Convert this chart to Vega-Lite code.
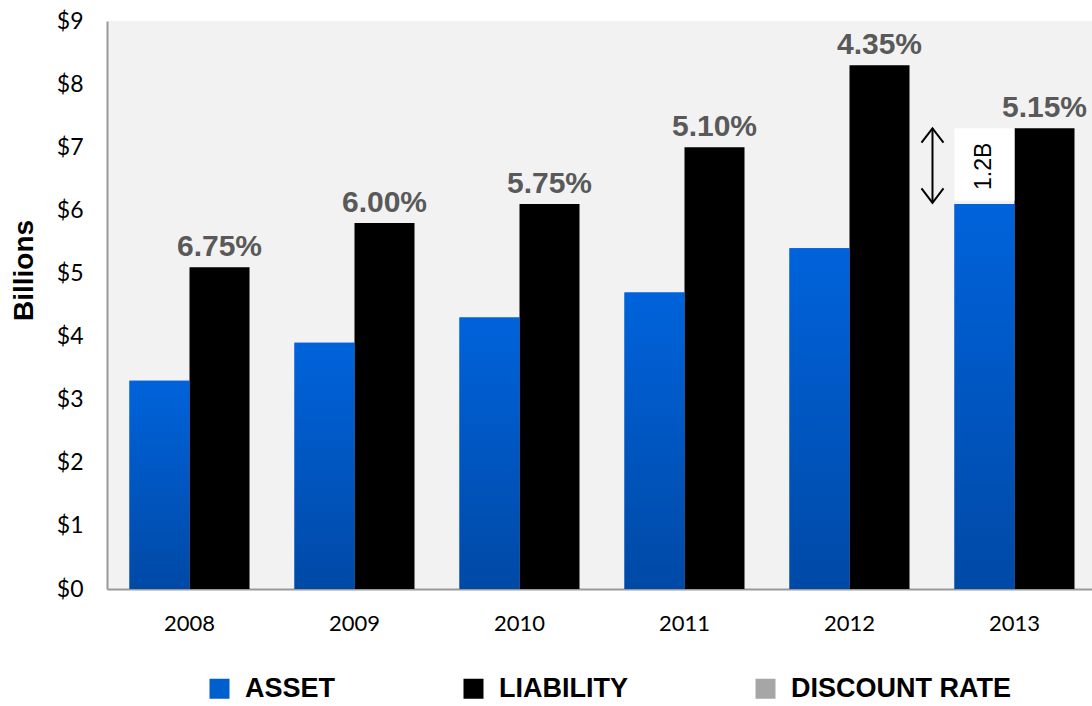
{
  "$schema": "https://vega.github.io/schema/vega-lite/v6.json",
  "autosize": "none",
  "width": 990,
  "height": 568,
  "padding": {"left": 107, "top": 21, "right": 0, "bottom": 117},
  "background": "white",
  "config": {
    "view": {"fill": "#f2f2f2", "stroke": null},
    "font": "Liberation Sans"
  },
  "datasets": {
    "main": [
      {"year": "2008", "series": "ASSET", "value": 3.3},
      {"year": "2008", "series": "LIABILITY", "value": 5.1, "rate": "6.75%"},
      {"year": "2009", "series": "ASSET", "value": 3.9},
      {"year": "2009", "series": "LIABILITY", "value": 5.8, "rate": "6.00%"},
      {"year": "2010", "series": "ASSET", "value": 4.3},
      {"year": "2010", "series": "LIABILITY", "value": 6.1, "rate": "5.75%"},
      {"year": "2011", "series": "ASSET", "value": 4.7},
      {"year": "2011", "series": "LIABILITY", "value": 7.0, "rate": "5.10%"},
      {"year": "2012", "series": "ASSET", "value": 5.4},
      {"year": "2012", "series": "LIABILITY", "value": 8.3, "rate": "4.35%"},
      {"year": "2013", "series": "ASSET", "value": 6.1},
      {"year": "2013", "series": "LIABILITY", "value": 7.3, "rate": "5.15%"}
    ],
    "note": [
      {"year": "2013", "series": "ASSET", "low": 6.15, "high": 7.3, "mid": 6.76, "label": "1.2B", "arrowLow": 6.12, "arrowHigh": 7.3}
    ]
  },
  "layer": [
    {
      "data": {"name": "main"},
      "mark": {"type": "bar"},
      "encoding": {
        "x": {
          "field": "year", "type": "nominal", "title": null,
          "scale": {"paddingInner": 0.2727, "paddingOuter": 0.1364},
          "axis": {
            "labelAngle": 0, "ticks": false, "labelFont": "Lato", "labelFontSize": 22,
            "labelColor": "#000000", "labelPadding": 24, "domainColor": "#999999", "domainWidth": 2
          }
        },
        "xOffset": {"field": "series", "type": "nominal", "scale": {"domain": ["ASSET", "LIABILITY"], "paddingInner": 0, "paddingOuter": 0}},
        "y": {
          "field": "value", "type": "quantitative", "title": "Billions",
          "scale": {"domain": [0, 9], "nice": false},
          "axis": {
            "values": [0, 1, 2, 3, 4, 5, 6, 7, 8, 9], "grid": false, "ticks": false,
            "labelExpr": "'$' + datum.value", "labelFont": "Lato", "labelFontSize": 23,
            "labelColor": "#000000", "labelPadding": 24, "domainColor": "#999999", "domainWidth": 2,
            "titleFont": "Liberation Sans", "titleFontSize": 28, "titleFontWeight": "bold",
            "titleColor": "#000000", "titleAngle": 270, "titleAlign": "center", "titleBaseline": "middle",
            "titleX": -83, "titleY": 249
          }
        },
        "color": {
          "field": "series", "type": "nominal",
          "scale": {"domain": ["ASSET", "LIABILITY", "DISCOUNT RATE"], "range": ["#005fcf", "#000000", "#a6a6a6"]},
          "legend": {
            "title": null, "orient": "none", "direction": "horizontal", "columns": 3,
            "legendX": 99, "legendY": 654, "symbolType": "square", "symbolSize": 400,
            "symbolStrokeWidth": 0, "labelFont": "Liberation Sans", "labelFontSize": 27,
            "labelFontWeight": "bold", "labelColor": "#000000", "labelOffset": 12,
            "columnPadding": 124, "labelLimit": 400
          }
        }
      }
    },
    {
      "data": {"name": "main"},
      "transform": [{"filter": "datum.series === 'ASSET'"}],
      "mark": {
        "type": "bar",
        "fill": {"gradient": "linear", "x1": 0, "y1": 0, "x2": 0, "y2": 1,
          "stops": [{"offset": 0, "color": "#0063db"}, {"offset": 1, "color": "#0049a6"}]}
      },
      "encoding": {
        "x": {"field": "year", "type": "nominal"},
        "xOffset": {"field": "series", "type": "nominal"},
        "y": {"field": "value", "type": "quantitative"}
      }
    },
    {
      "data": {"name": "main"},
      "transform": [{"filter": "datum.series === 'LIABILITY'"}],
      "mark": {"type": "text", "font": "Liberation Sans", "fontSize": 30, "fontWeight": "bold", "fill": "#595959", "baseline": "alphabetic", "align": "center", "dy": -11},
      "encoding": {
        "x": {"field": "year", "type": "nominal"},
        "xOffset": {"field": "series", "type": "nominal"},
        "y": {"field": "value", "type": "quantitative"},
        "text": {"field": "rate"}
      }
    },
    {
      "data": {"name": "note"},
      "mark": {"type": "bar", "fill": "#ffffff"},
      "encoding": {
        "x": {"field": "year", "type": "nominal"},
        "xOffset": {"field": "series", "type": "nominal"},
        "y": {"field": "low", "type": "quantitative"},
        "y2": {"field": "high"}
      }
    },
    {
      "data": {"name": "note"},
      "mark": {"type": "text", "font": "Liberation Sans", "fontSize": 23, "angle": 270, "align": "center", "baseline": "middle", "fill": "#000000", "dx": -4},
      "encoding": {
        "x": {"field": "year", "type": "nominal"},
        "xOffset": {"field": "series", "type": "nominal"},
        "y": {"field": "mid", "type": "quantitative"},
        "text": {"field": "label"}
      }
    },
    {
      "data": {"name": "note"},
      "mark": {"type": "rule", "stroke": "#000000", "strokeWidth": 2, "xOffset": -22},
      "encoding": {
        "x": {"field": "year", "type": "nominal", "bandPosition": 0},
        "y": {"field": "arrowLow", "type": "quantitative"},
        "y2": {"field": "arrowHigh"}
      }
    },
    {
      "data": {"name": "note"},
      "mark": {"type": "point", "shape": "M-1,1.3L0,0L1,1.3", "size": 484, "filled": false, "stroke": "#000000", "strokeWidth": 2, "opacity": 1, "xOffset": -22},
      "encoding": {
        "x": {"field": "year", "type": "nominal", "bandPosition": 0},
        "y": {"field": "arrowHigh", "type": "quantitative"}
      }
    },
    {
      "data": {"name": "note"},
      "mark": {"type": "point", "shape": "M-1,-1.3L0,0L1,-1.3", "size": 484, "filled": false, "stroke": "#000000", "strokeWidth": 2, "opacity": 1, "xOffset": -22},
      "encoding": {
        "x": {"field": "year", "type": "nominal", "bandPosition": 0},
        "y": {"field": "arrowLow", "type": "quantitative"}
      }
    }
  ]
}
